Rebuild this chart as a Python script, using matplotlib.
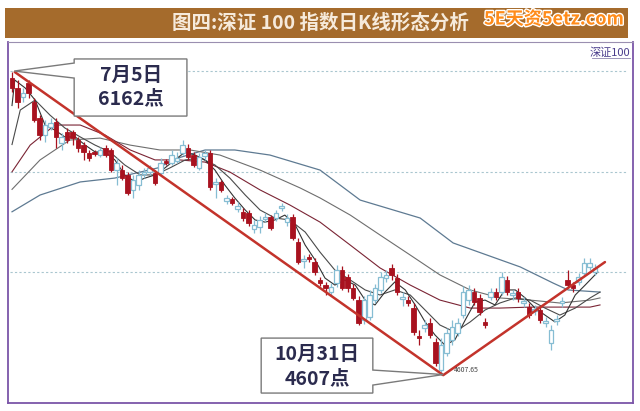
import numpy as np
import matplotlib.pyplot as plt
from matplotlib.patches import Rectangle, Polygon
import matplotlib.patheffects as pe

plt.rcParams['font.family'] = ['Noto Sans CJK SC', 'DejaVu Sans']

# daily candles, 7/5 .. late Nov
opens = [6131, 6080, 6034, 6106, 6008, 5926, 5839, 5880, 5906, 5798,
         5854, 5854, 5813, 5787, 5746, 5752, 5736, 5772, 5762, 5659,
         5659, 5634, 5557, 5582, 5639, 5649, 5644, 5644, 5705, 5695,
         5705, 5746, 5772, 5736, 5670, 5731, 5746, 5587, 5598, 5500,
         5510, 5459, 5444, 5439, 5357, 5367, 5408, 5418, 5413, 5464,
         5392, 5418, 5290, 5192, 5213, 5187, 5095, 5069, 5033, 5079,
         5146, 5110, 5054, 4992, 4890, 4905, 4992, 5044, 5105, 5157,
         5105, 4998, 4992, 4951, 4808, 4849, 4874, 4777, 4633, 4720,
         4787, 4823, 4915, 4992, 5033, 5003, 4880, 5008, 5033, 5033,
         5095, 5018, 5033, 4977, 4956, 4936, 4941, 4874, 4772, 4885,
         4977, 5095, 5069, 5085, 5131, 5162, 5136]
closes = [6080, 6008, 6054, 6054, 5916, 5839, 5890, 5900, 5829, 5829,
          5813, 5823, 5772, 5752, 5721, 5741, 5762, 5736, 5659, 5695,
          5618, 5541, 5608, 5634, 5649, 5670, 5593, 5695, 5695, 5736,
          5721, 5787, 5726, 5685, 5726, 5746, 5572, 5598, 5557, 5516,
          5490, 5474, 5413, 5387, 5377, 5403, 5418, 5362, 5439, 5474,
          5413, 5310, 5187, 5203, 5203, 5136, 5079, 5054, 5059, 5146,
          5054, 5054, 5003, 4874, 4992, 5018, 5054, 5110, 5121, 5121,
          5033, 5008, 4977, 4828, 4797, 4864, 4813, 4669, 4761, 4823,
          4854, 4874, 5033, 5044, 4982, 4931, 4864, 5033, 5008, 5110,
          5033, 5028, 5003, 4987, 4915, 4946, 4890, 4885, 4838, 4895,
          4987, 5069, 5054, 5110, 5182, 5182, 5157]
highs = [6162, 6121, 6080, 6121, 6029, 5941, 5916, 5926, 5926, 5849,
         5875, 5864, 5829, 5803, 5762, 5762, 5777, 5787, 5772, 5721,
         5685, 5649, 5634, 5659, 5670, 5685, 5659, 5721, 5716, 5762,
         5752, 5813, 5793, 5752, 5746, 5762, 5762, 5618, 5608, 5531,
         5521, 5495, 5464, 5454, 5403, 5423, 5439, 5428, 5454, 5490,
         5433, 5433, 5310, 5223, 5228, 5208, 5110, 5085, 5079, 5172,
         5167, 5126, 5074, 5013, 5013, 5044, 5074, 5136, 5146, 5177,
         5126, 5033, 5013, 4977, 4838, 4890, 4900, 4797, 4797, 4849,
         4890, 4900, 5064, 5069, 5054, 5023, 4900, 5054, 5054, 5136,
         5115, 5044, 5054, 5008, 4977, 4967, 4962, 4905, 4864, 4915,
         5008, 5146, 5085, 5131, 5208, 5208, 5177]
lows = [6059, 5977, 6008, 6029, 5906, 5813, 5803, 5864, 5772, 5762,
        5798, 5787, 5752, 5711, 5705, 5731, 5726, 5726, 5649, 5582,
        5608, 5531, 5516, 5557, 5618, 5634, 5582, 5634, 5685, 5685,
        5695, 5736, 5711, 5675, 5659, 5711, 5557, 5516, 5546, 5485,
        5480, 5444, 5398, 5372, 5336, 5336, 5392, 5351, 5398, 5449,
        5372, 5300, 5177, 5157, 5187, 5121, 5064, 5018, 5013, 5059,
        5044, 5033, 4992, 4864, 4869, 4890, 4977, 5028, 5085, 5095,
        5018, 4962, 4962, 4813, 4761, 4828, 4797, 4654, 4607, 4705,
        4761, 4808, 4900, 4967, 4967, 4915, 4849, 4992, 4992, 5018,
        5018, 4992, 4982, 4956, 4900, 4915, 4874, 4854, 4736, 4864,
        4956, 5054, 5033, 5069, 5115, 5146, 5121]

# moving average lines (x = candle index)
ma5_x = [0, 0.5, 2.4, 4.2, 6, 7.8, 9.6, 11.5, 13.3, 15.1, 16.9, 18.7, 20.5, 22.4,
         24.2, 26, 27.8, 29.6, 31.5, 33.3, 35.1, 36.9, 38.7, 40.5, 42.4, 44.2, 46,
         47.8, 49.6, 51.5, 53.3, 55.1, 56.9, 58.7, 60.5, 62.4, 64.2, 66, 67.8, 69.6,
         71.5, 73.3, 75.1, 76.9, 78.7, 80.5, 82.4, 84.2, 86, 87.8, 89.6, 91.5, 93.3,
         95.1, 96.9, 98.7, 100.5, 102.4, 104.2, 106.5]
ma5_y = [5990, 6121, 6080, 6018, 5890, 5864, 5829, 5829, 5787, 5752, 5752, 5711,
         5634, 5598, 5618, 5634, 5670, 5711, 5752, 5736, 5711, 5659, 5582, 5516,
         5454, 5403, 5392, 5403, 5428, 5377, 5274, 5198, 5105, 5069, 5095, 5069,
         4992, 4967, 5033, 5085, 5044, 4967, 4880, 4813, 4761, 4787, 4890, 4982,
         4992, 4967, 5044, 5044, 5003, 4951, 4915, 4880, 4915, 5018, 5069, 5136]
ma10_x = [0, 1.5, 4.2, 6.9, 9.6, 12.4, 15.1, 17.8, 20.5, 23.3, 26, 28.7, 31.5, 34.2,
          36.9, 39.6, 42.4, 45.1, 47.8, 50.5, 53.3, 56, 58.7, 61.5, 64.2, 66.9, 69.6,
          72.4, 75.1, 77.8, 80.5, 83.3, 86, 88.7, 91.5, 94.2, 96.9, 99.6, 102.4,
          105.1, 106.9]
ma10_y = [5790, 5967, 6018, 5941, 5875, 5829, 5787, 5752, 5685, 5634, 5634, 5670,
          5711, 5721, 5685, 5618, 5531, 5454, 5413, 5403, 5341, 5238, 5146, 5095,
          5044, 5018, 5044, 5018, 4941, 4864, 4828, 4880, 4941, 4977, 5003, 4992,
          4951, 4915, 4951, 5003, 5033]
ma20_x = [0, 3.3, 7.8, 12.4, 16.9, 21.5, 26, 30.5, 35.1, 39.6, 45.1, 50.5, 56, 61.5,
          66.9, 72.4, 77.8, 83.3, 88.7, 94.2, 99.6, 105.1, 106.9]
ma20_y = [5650, 5787, 5890, 5890, 5839, 5762, 5711, 5711, 5700, 5649, 5557, 5480,
          5392, 5274, 5157, 5069, 4992, 4951, 4951, 4956, 4956, 4956, 4967]
ma30_x = [0, 5.1, 10.5, 16, 21.5, 26.9, 32.4, 37.8, 45.1, 52.4, 56, 61.5, 66.9, 72.4,
          77.8, 83.3, 88.7, 94.2, 99.6, 105.1, 106.9]
ma30_y = [5560, 5711, 5813, 5823, 5787, 5762, 5762, 5736, 5659, 5567, 5516, 5428,
          5326, 5223, 5121, 5044, 5003, 4992, 4977, 4992, 5003]
ma60_x = [0, 5.1, 12.4, 18.7, 26.5, 30.2, 35.1, 40.5, 46.9, 56, 63.3, 74.2, 80.2,
          92.4, 98.4, 101.1, 106.9]
ma60_y = [5445, 5531, 5598, 5618, 5670, 5721, 5762, 5762, 5736, 5659, 5505, 5413,
          5285, 5162, 5079, 5044, 5033]

# red trend lines: 7/5 high -> 10/31 low -> rebound
trend_x = [0.5, 78.4, 107.8]
trend_y = [6162, 4607, 5187]
grid_levels = [6167, 5649, 5136]

fig = plt.figure(figsize=(6.4, 4.11), dpi=100)
fig.patch.set_facecolor('white')

# title bar
fig.patches.append(Rectangle((5 / 640, 1 - 38 / 411), 623 / 640, 30 / 411,
                             transform=fig.transFigure, facecolor='#A56B2C',
                             edgecolor='none', zorder=0))
fig.text(0.5, 1 - 23 / 411, '图四:深证 100 指数日K线形态分析', ha='center', va='center',
         fontsize=14, fontweight='bold', color='#F6EADB')
fig.text(484 / 640, 1 - 19 / 411, '5E天资5etz.com', ha='left', va='center',
         fontsize=13, fontweight='bold', color='#FF8C1A',
         path_effects=[pe.withStroke(linewidth=2, foreground='white')])

ax = fig.add_axes([8 / 640, 8 / 411, 625 / 640, 361 / 411])
ax.set_xlim(-0.73, 112.9)
ax.set_ylim(4464, 6316)
ax.set_xticks([])
ax.set_yticks([])
for s in ['left', 'bottom', 'right']:
    ax.spines[s].set_color('#7B55A8')
    ax.spines[s].set_linewidth(1.3)
ax.spines['top'].set_color('#9A8FB0')
ax.spines['top'].set_linewidth(0.8)

for g in grid_levels:
    ax.axhline(g, xmin=0.003, xmax=0.99, color='#A9C6CF', lw=0.8,
               ls=(0, (2, 2)), zorder=1)

# moving averages
ax.plot(ma60_x, ma60_y, color='#5E7A92', lw=0.9, zorder=2)
ax.plot(ma30_x, ma30_y, color='#6E6E6E', lw=0.8, zorder=2)
ax.plot(ma20_x, ma20_y, color='#7A2434', lw=0.8, zorder=2)
ax.plot(ma10_x, ma10_y, color='#4A4A4A', lw=0.8, zorder=2)
ax.plot(ma5_x, ma5_y, color='#333333', lw=0.8, zorder=2)

# candles
o = np.array(opens)
c = np.array(closes)
h = np.array(highs)
l = np.array(lows)
x = np.arange(len(o))
up = c >= o
red = '#A8121F'
blue = '#86BDD3'
ax.vlines(x[~up], l[~up], h[~up], color=red, lw=0.9, zorder=3)
ax.vlines(x[up], l[up], h[up], color=blue, lw=0.9, zorder=3)
body = np.maximum(np.abs(c - o), 5)
ax.bar(x[~up], body[~up], bottom=np.minimum(o, c)[~up], width=0.8,
       color=red, edgecolor=red, lw=0.6, zorder=4)
ax.bar(x[up], body[up], bottom=np.minimum(o, c)[up], width=0.8,
       color='white', edgecolor=blue, lw=0.9, zorder=4)

ax.plot(trend_x, trend_y, color='#C3332B', lw=1.8, zorder=5,
        solid_capstyle='round')

# callouts
call1 = Polygon([(11.3, 6229), (31.8, 6229), (31.8, 5936), (11.3, 5936),
                 (11.3, 6131), (0.4, 6167), (11.3, 6208)], closed=True,
                facecolor='white', edgecolor='#7A7A7A', lw=1.0, zorder=6)
ax.add_patch(call1)
ax.text(21.6, 6147, '7月5日', ha='center', va='center', fontsize=14,
        fontweight='bold', color='#2B2B4E', zorder=7)
ax.text(21.6, 6025, '6162点', ha='center', va='center', fontsize=14,
        fontweight='bold', color='#2B2B4E', zorder=7)

call2 = Polygon([(45.3, 4797), (65.6, 4797), (65.6, 4633), (78.4, 4610),
                 (65.6, 4556), (65.6, 4515), (45.3, 4515)], closed=True,
                facecolor='white', edgecolor='#7A7A7A', lw=1.0, zorder=6)
ax.add_patch(call2)
ax.text(55.5, 4712, '10月31日', ha='center', va='center', fontsize=14,
        fontweight='bold', color='#2B2B4E', zorder=7)
ax.text(55.5, 4590, '4607点', ha='center', va='center', fontsize=14,
        fontweight='bold', color='#2B2B4E', zorder=7)
ax.text(80.3, 4632, '4607.65', ha='left', va='center', fontsize=5,
        color='#444444', zorder=7)

ax.text(0.995, 0.985, '深证100', transform=ax.transAxes, ha='right', va='top',
        fontsize=8, color='#4A3D8C')
ax.plot([0.935, 0.995], [0.955, 0.955], transform=ax.transAxes,
        color='#8E86B0', lw=0.6)

fig.savefig('out.png', dpi=100)
